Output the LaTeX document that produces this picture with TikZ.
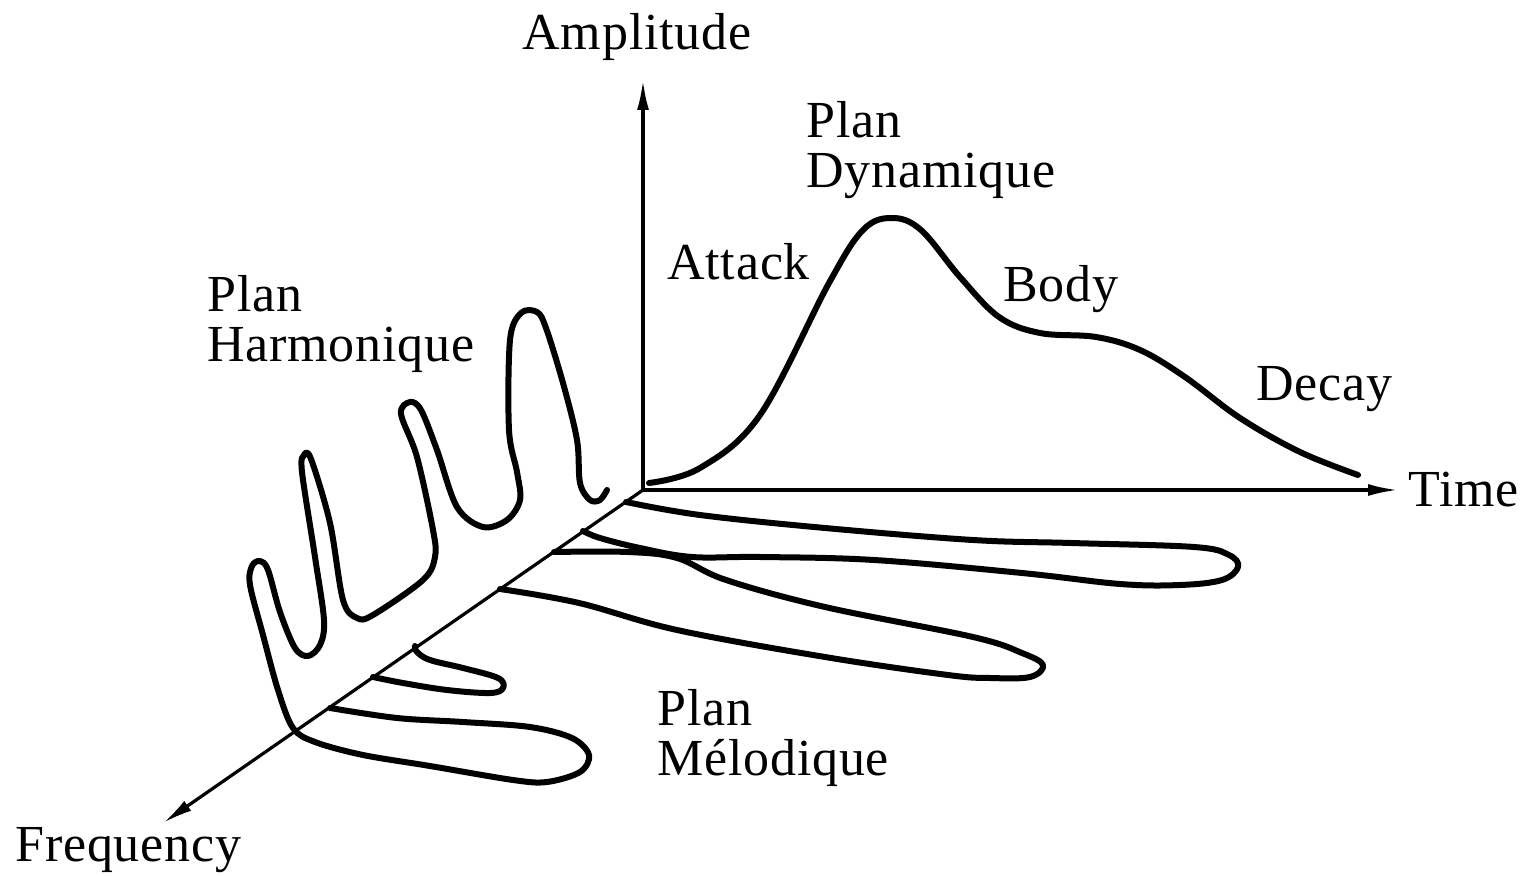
\documentclass[tikz,border=0pt]{standalone}
\usepackage{fontspec}
\setmainfont{Liberation Serif}
\usetikzlibrary{arrows.meta}
\tikzset{
  axis/.style={line width=1.6pt,-{Latex[length=15pt,width=6pt]}},
  curve/.style={line width=3pt,line cap=round,line join=round},
  lbl/.style={font=\fontsize{26pt}{25pt}\selectfont\addfontfeature{LetterSpace=1.5},inner sep=0pt,anchor=west,align=left},
}
\begin{document}
\begin{tikzpicture}[x=0.5pt,y=-0.5pt]
\useasboundingbox (0,0) rectangle (1526,876);
% axes
\coordinate (O) at (643,490);
\coordinate (A) at (643,80);
\coordinate (T) at (1398,490);
\coordinate (F) at (163,823);
\draw[axis] (O) -- (A);
\draw[axis] (O) -- (T);
\draw[axis] (O) -- (F);
% labels
\node[lbl,anchor=center] (amp) at (637,37) {Amplitude};
\node[lbl] (time) at (1408,490) {Time};
\node[lbl] (freq) at (15,850) {Frequency};
\node[lbl] (pdyn) at (806,150) {Plan\\Dynamique};
\node[lbl] (att) at (667,262) {Attack};
\node[lbl] (body) at (1003,289) {Body};
\node[lbl] (decay) at (1256,389) {Decay};
\node[lbl] (pharm) at (207,324) {Plan\\Harmonique};
\node[lbl] (pmel) at (657,738) {Plan\\Mélodique};
% dynamic envelope
\draw[curve] plot[smooth,tension=0.6] coordinates {
 (649,483) (700,468) (760,415) (829,283) (863,230) (892,218) (921,230)
 (960,277) (999,317) (1040,333) (1096,337) (1140,350) (1185,377)
 (1240,418) (1300,452) (1358,475)};
% harmonic curve + bottom melodic loop
\draw[curve] plot[smooth,tension=0.55] coordinates {
 (330,708) (397,718) (463,722) (530,727) (572,738) (589,755) (580,772)
 (547,782) (513,780) (430,766) (363,755) (315,742) (293,728) (278,690)
 (263,635) (250,585) (252,566) (260,561) (268,570) (280,612) (295,648)
 (308,656) (320,645) (324,620) (315,557) (302,472) (304,455) (311,459)
 (330,523) (343,600) (357,618) (373,615) (423,580) (435,557) (433,530)
 (417,457) (401,414) (410,402) (421,410) (437,450) (457,507) (483,527)
 (507,520) (520,500) (517,472) (509,430) (510,340) (521,313)
 (537,312) (546,328) (563,383) (577,440) (580,483) (590,500) (600,500) (607,490)};
% melodic loops
\draw[curve] plot[smooth,tension=0.6] coordinates {
 (373,677) (403,683) (447,690) (490,693) (503,688) (498,678) (463,668)
 (430,660) (417,652) (415,646)};
\draw[curve] plot[smooth,tension=0.6] coordinates {
 (626,502) (700,515) (825,528) (973,540) (1071,543) (1194,547) (1229,555)
 (1238,567) (1222,580) (1180,585) (1120,584) (1022,573) (874,560) (760,557)
 (692,557) (640,548) (600,538) (583,531)};
\draw[curve] plot[smooth,tension=0.6] coordinates {
 (554,552) (628,552) (677,558) (726,580) (825,607) (973,637) (1022,653)
 (1043,665) (1030,677) (990,678) (948,675) (825,657) (677,630) (579,603) (500,589)};
\end{tikzpicture}
\end{document}
